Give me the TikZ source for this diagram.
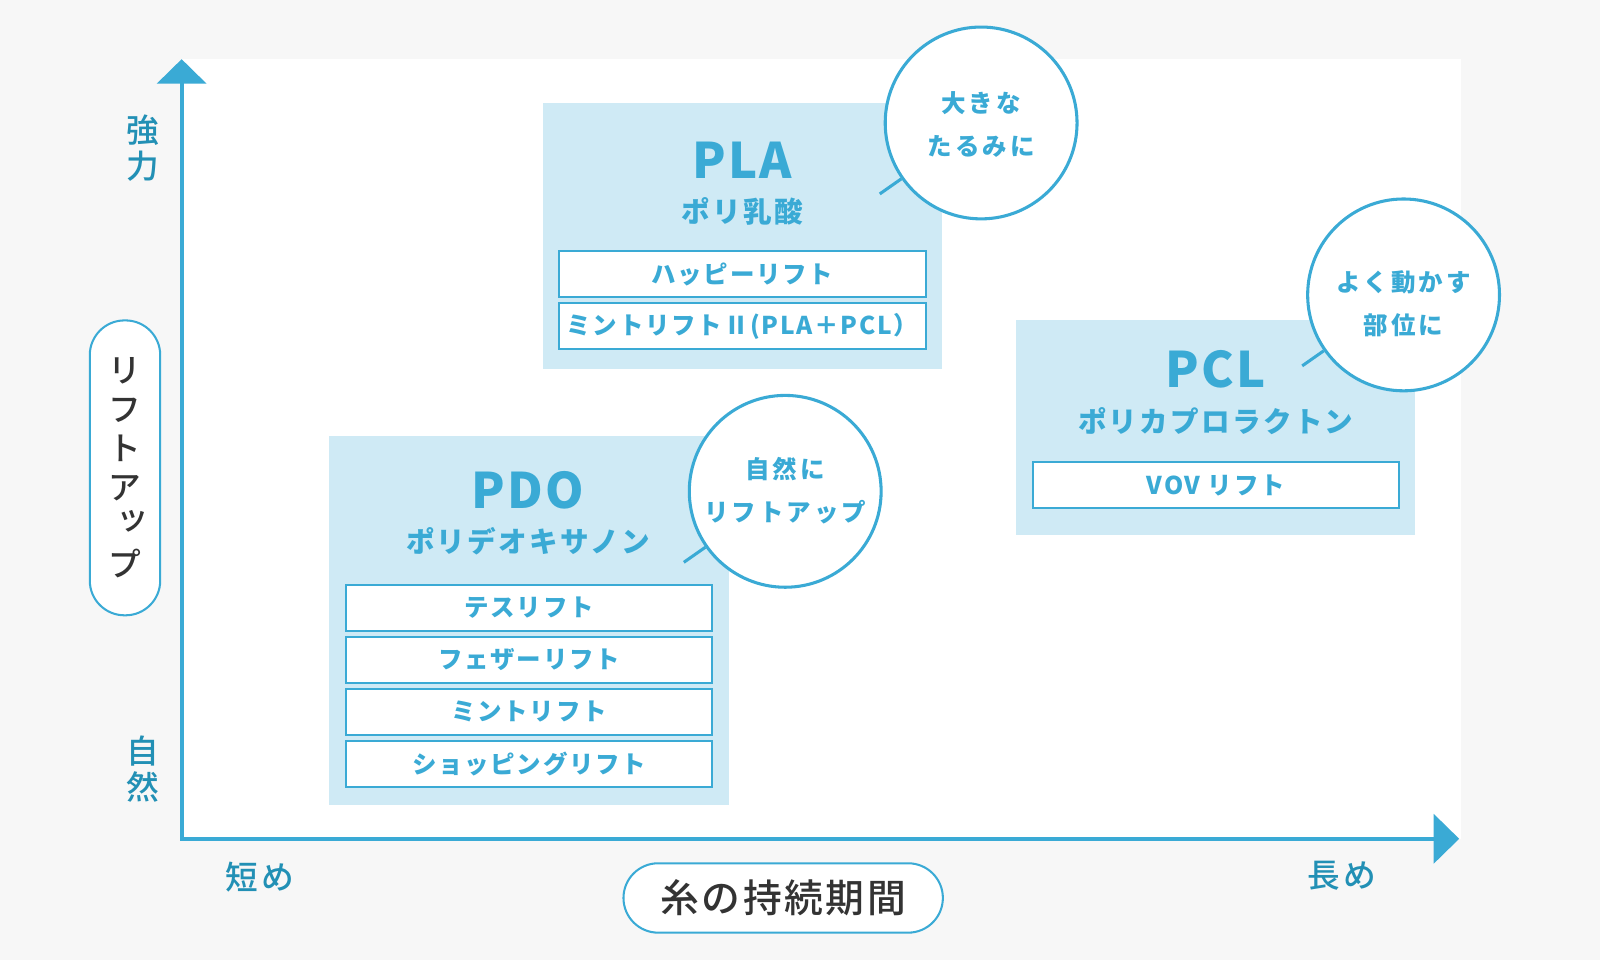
\documentclass[tikz,border=0pt]{standalone}
\usepackage{fontspec}
\setmainfont{Noto Sans CJK JP}
\newfontfamily\jptitle[LetterSpace=5]{Noto Sans CJK JP}
\newfontfamily\jpsub[LetterSpace=8]{Noto Sans CJK JP}
\newfontfamily\jpitem[LetterSpace=7]{Noto Sans CJK JP}
\newfontfamily\jpcirc[LetterSpace=12]{Noto Sans CJK JP}
\newfontfamily\jpaxis[LetterSpace=10]{Noto Sans CJK JP Medium}
\newfontfamily\jpv{Noto Sans CJK JP Medium}
\newfontfamily\jppill[LetterSpace=7]{Noto Sans CJK JP Medium}
\usetikzlibrary{arrows.meta,calc}
\definecolor{accent}{HTML}{3AAAD5}
\definecolor{boxfill}{HTML}{CFEAF5}
\definecolor{axislbl}{HTML}{2290B5}
\definecolor{bggray}{HTML}{F7F7F7}
\definecolor{ink}{HTML}{333333}
\begin{document}
\begin{tikzpicture}[x=0.5pt,y=-0.5pt,
  groupbox/.style={rectangle,fill=boxfill,draw=none,inner sep=0pt,minimum width=195.5pt},
  grouptitle/.style={inner sep=0pt,text=accent,font=\jptitle\bfseries\fontsize{24pt}{28pt}\selectfont},
  groupsub/.style={inner sep=0pt,text=accent,font=\jpsub\bfseries\fontsize{14pt}{17pt}\selectfont},
  itembox/.style={rectangle,draw=accent,line width=1pt,fill=white,inner sep=0pt,
    minimum width=179.5pt,minimum height=22.5pt,text=accent,
    font=\jpitem\bfseries\fontsize{12pt}{14pt}\selectfont},
  bubble/.style={circle,draw=accent,line width=1.5pt,fill=white,inner sep=0pt,minimum size=94pt},
  bubbletext/.style={inner sep=0pt,align=center,text=accent,
    font=\jpcirc\bfseries\fontsize{12pt}{21pt}\selectfont},
  tail/.style={draw=accent,line width=1.5pt},
  axis/.style={draw=accent,line width=2pt,line join=miter,
    {Triangle[length=12pt,width=24pt]}-{Triangle[length=12.5pt,width=24pt]}},
  axislabel/.style={inner sep=0pt,align=center,text=axislbl,
    font=\jpaxis\fontsize{16pt}{17.5pt}\selectfont},
  pill/.style={rectangle,rounded corners=17pt,draw=accent,line width=1pt,fill=white,
    inner sep=0pt,text=ink,align=center}
]
\useasboundingbox (0,0) rectangle (1568,941);
\fill[bggray] (0,0) rectangle (1568,941);
\fill[white] (178,58) rectangle (1432,822);

% axes
\coordinate (ytip) at (178,58);
\coordinate (O) at (178,822);
\coordinate (xtip) at (1430,822);
\draw[axis] (ytip) -- (O) -- (xtip);

% axis labels
\node[axislabel] (strong) at (140,145.5) {強\\力};
\node[axislabel] (natural) at (140,753.5) {自\\然};
\node[axislabel] (short) at (255,860) {短め};
\node[axislabel] (long) at (1315,858) {長め};

\node[pill,minimum width=34.5pt,minimum height=144.5pt,
  font=\jpv\fontsize{16pt}{19pt}\selectfont] (ypill) at (122.5,458.5)
  {リ\\フ\\ト\\ア\\\raisebox{4pt}{\kern8pt ッ}\\プ};
\node[pill,minimum width=156.5pt,minimum height=34pt,
  font=\jppill\fontsize{19pt}{22pt}\selectfont] (xpill) at (767.5,880) {糸の持続期間};

% PLA group
\node[groupbox,minimum height=130.5pt] (plabox) at (727.5,231.5) {};
\node[grouptitle] (platitle) at (727.5,157) {PLA};
\node[groupsub] (plasub) at (727.5,207) {ポリ乳酸};
\node[itembox] (pla1) at (727.5,268.5) {ハッピーリフト};
\node[itembox] (pla2) at (727.5,319.5) {ミントリフトⅡ(PLA＋PCL）};

% PDO group
\node[groupbox,minimum width=196pt,minimum height=181pt] (pdobox) at (518,608) {};
\node[grouptitle] (pdotitle) at (517.5,480) {PDO};
\node[groupsub] (pdosub) at (517.5,530) {ポリデオキサノン};
\node[itembox] (pdo1) at (518.5,595.5) {テスリフト};
\node[itembox] (pdo2) at (518.5,646.5) {フェザーリフト};
\node[itembox] (pdo3) at (518.5,697.5) {ミントリフト};
\node[itembox] (pdo4) at (518.5,748.5) {ショッピングリフト};

% PCL group
\node[groupbox,minimum height=105pt] (pclbox) at (1191.5,419) {};
\node[grouptitle] (pcltitle) at (1191.5,362) {PCL};
\node[groupsub] (pclsub) at (1191.5,413) {ポリカプロラクトン};
\node[itembox] (pcl1) at (1191.5,475.5) {VOV リフト};

% bubbles
\node[bubble] (plac) at (961.5,120.5) {};
\node[bubbletext] (plact) at (961.5,122) {大きな\\たるみに};
\coordinate (plat) at ($(plac.center)!1.27!(plac.215)$);
\draw[tail] (plac.215) -- (plat);

\node[bubble] (pdoc) at (769.5,481.5) {};
\node[bubbletext] (pdoct) at (769.5,481) {自然に\\リフトアップ};
\coordinate (pdot) at ($(pdoc.center)!1.27!(pdoc.215)$);
\draw[tail] (pdoc.215) -- (pdot);

\node[bubble] (pclc) at (1375.5,289) {};
\node[bubbletext] (pclct) at (1375.5,297.5) {よく動かす\\部位に};
\coordinate (pclt) at ($(pclc.center)!1.27!(pclc.215)$);
\draw[tail] (pclc.215) -- (pclt);
\end{tikzpicture}
\end{document}
